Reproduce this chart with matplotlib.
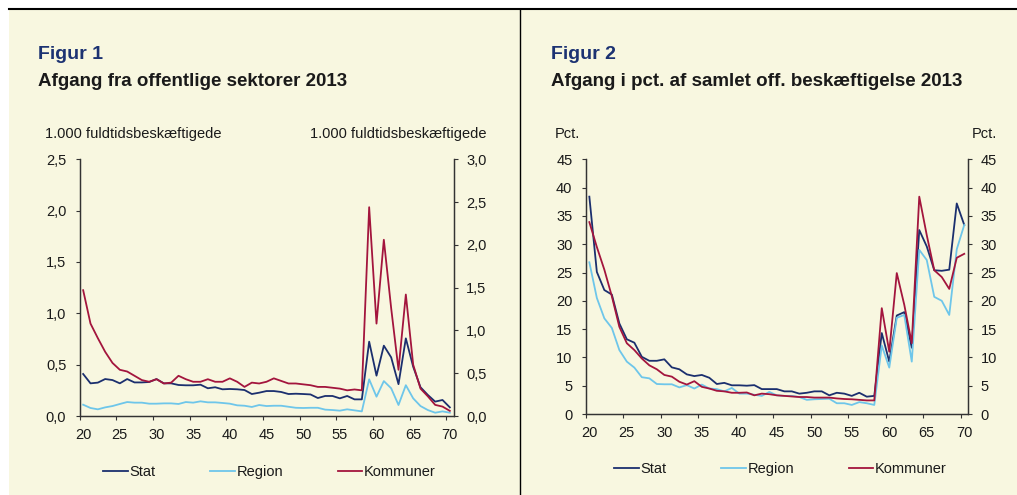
import numpy as np
import matplotlib.pyplot as plt
from matplotlib.patches import Rectangle
from matplotlib.lines import Line2D

plt.rcParams['font.family'] = ['Liberation Sans', 'DejaVu Sans']

# ages 20..70, one value per age
ages = list(range(20, 71))
age_labels = [str(a) for a in range(20, 71, 5)]

# Figur 1: 1.000 fuldtidsbeskaeftigede (Stat + Region on left axis, Kommuner on right axis)
stat_1 = [0.409, 0.318, 0.325, 0.36, 0.35, 0.318, 0.36, 0.327, 0.327, 0.331,
          0.36, 0.318, 0.318, 0.302, 0.299, 0.299, 0.305, 0.27, 0.28, 0.26,
          0.263, 0.26, 0.253, 0.214, 0.227, 0.243, 0.243, 0.234, 0.214, 0.217,
          0.214, 0.21, 0.175, 0.195, 0.195, 0.172, 0.195, 0.162, 0.162,
          0.724, 0.393, 0.685, 0.571, 0.31, 0.756, 0.48, 0.28, 0.205, 0.14, 0.156, 0.084]
region_1 = [0.11, 0.078, 0.065, 0.084, 0.097, 0.117, 0.136, 0.13, 0.13, 0.12,
            0.12, 0.123, 0.123, 0.117, 0.136, 0.13, 0.143, 0.133, 0.133, 0.127,
            0.12, 0.104, 0.10, 0.088, 0.107, 0.097, 0.10, 0.10, 0.09, 0.08,
            0.078, 0.08, 0.08, 0.062, 0.058, 0.052, 0.065, 0.055, 0.045,
            0.357, 0.188, 0.34, 0.27, 0.107, 0.30, 0.172, 0.097, 0.058, 0.032, 0.045, 0.032]
kommuner_1 = [1.47, 1.08, 0.91, 0.75, 0.62, 0.54, 0.52, 0.47, 0.42, 0.40,
              0.43, 0.38, 0.39, 0.47, 0.43, 0.40, 0.40, 0.43, 0.40, 0.40,
              0.44, 0.40, 0.34, 0.39, 0.38, 0.40, 0.44, 0.41, 0.38, 0.38,
              0.37, 0.36, 0.34, 0.34, 0.33, 0.32, 0.30, 0.31, 0.30,
              2.44, 1.08, 2.06, 1.26, 0.54, 1.42, 0.60, 0.32, 0.23, 0.13, 0.11, 0.06]

# Figur 2: pct. af samlet off. beskaeftigelse
stat_2 = [38.4, 25.1, 21.9, 21.1, 16.0, 13.2, 12.6, 10.1, 9.4, 9.4,
          9.66, 8.24, 7.9, 7.0, 6.7, 6.9, 6.4, 5.3, 5.5, 5.07,
          5.07, 5.0, 5.1, 4.4, 4.4, 4.4, 4.0, 4.0, 3.6, 3.75,
          4.0, 4.0, 3.3, 3.75, 3.6, 3.2, 3.75, 3.06, 3.2,
          14.3, 9.25, 17.4, 18.0, 11.7, 32.5, 29.6, 25.4, 25.3, 25.5, 37.2, 33.4]
region_2 = [26.8, 20.5, 16.9, 15.2, 11.3, 9.25, 8.2, 6.5, 6.3, 5.3,
            5.25, 5.25, 4.7, 5.1, 4.5, 5.2, 4.5, 4.4, 4.0, 4.6,
            3.6, 3.6, 3.4, 3.2, 3.9, 3.3, 3.2, 3.2, 3.0, 2.5,
            2.6, 2.65, 2.7, 1.9, 1.9, 1.6, 2.1, 1.9, 1.6,
            12.1, 8.2, 17.0, 17.5, 9.25, 29.0, 27.2, 20.7, 20.0, 17.5, 29.1, 33.4]
kommuner_2 = [33.9, 29.5, 25.5, 20.8, 15.4, 12.5, 11.3, 9.8, 8.6, 7.9,
              6.9, 6.6, 5.7, 5.2, 5.8, 4.8, 4.5, 4.1, 4.0, 3.75,
              3.75, 3.8, 3.3, 3.6, 3.5, 3.3, 3.2, 3.1, 3.0, 3.0,
              2.9, 2.9, 2.9, 2.75, 2.65, 2.6, 2.5, 2.4, 2.4,
              18.7, 11.0, 24.9, 19.3, 12.5, 38.4, 31.6, 25.4, 24.2, 22.1, 27.6, 28.3]

series_names = ['Stat', 'Region', 'Kommuner']
colors = ['#1B2F6E', '#6EC6EA', '#A3153D']
cream = '#F8F7E0'
navy = '#1C3272'
txt = '#1a1a1a'

W, H = 1017, 495
fig = plt.figure(figsize=(W / 100, H / 100), dpi=100)
fig.patch.set_facecolor('white')
fig.patches.append(Rectangle((9 / W, 0), 1, 1 - 9 / H, transform=fig.transFigure,
                             facecolor=cream, edgecolor='none', zorder=-5))
fig.lines.append(Line2D([9 / W, 1], [1 - 9 / H, 1 - 9 / H], transform=fig.transFigure,
                        color='black', lw=1.5))
fig.lines.append(Line2D([520 / W, 520 / W], [0, 1 - 9 / H], transform=fig.transFigure,
                        color='black', lw=1.0))


def ftext(x, y, s, color=txt, **kw):  # place text in pixel coords (y from top)
    fig.text(x / W, 1 - y / H, s, va='baseline', color=color, **kw)


def fmt(vals, dec):
    return [f'{v:.{dec}f}'.replace('.', ',') for v in vals]


def style_axes(ax, axr, lticks, rticks, ldec, rdec):
    x = np.arange(len(ages))
    ax.set_xlim(-0.5, len(ages) - 0.5)
    ax.set_xticks(x[::5])
    ax.set_xticklabels(age_labels)
    ax.set_xticks(np.arange(-0.5, len(ages) - 1, 5), minor=True)
    ax.tick_params(axis='x', which='major', length=0, pad=8.5, labelsize=10.5, labelcolor=txt)
    ax.tick_params(axis='x', which='minor', length=3, width=0.8, direction='out', color='#333333')
    ax.set_ylim(lticks[0], lticks[-1])
    ax.set_yticks(lticks)
    ax.set_yticklabels(fmt(lticks, ldec))
    ax.tick_params(axis='y', length=3, width=0.8, pad=6.5, labelsize=10.5, labelcolor=txt, color='#333333')
    axr.set_ylim(rticks[0], rticks[-1])
    axr.set_yticks(rticks)
    axr.set_yticklabels(fmt(rticks, rdec))
    axr.tick_params(axis='y', length=3, width=0.8, pad=6, labelsize=10.5, labelcolor=txt, color='#333333')
    for a in (ax, axr):
        a.set_facecolor('none')
        a.spines['top'].set_visible(False)
        for s in ('left', 'right', 'bottom'):
            a.spines[s].set_color('#333333')
            a.spines[s].set_linewidth(0.9)


# ---- Figur 1
ax1 = fig.add_axes([79.5 / W, 1 - 416 / H, 374 / W, 256.7 / H])
ax1r = ax1.twinx()
x = np.arange(len(ages))
l1, = ax1.plot(x, stat_1, color=colors[0], lw=1.3)
l2, = ax1.plot(x, region_1, color=colors[1], lw=1.3)
l3, = ax1r.plot(x, kommuner_1, color=colors[2], lw=1.3)
style_axes(ax1, ax1r, [0, 0.5, 1.0, 1.5, 2.0, 2.5], [0, 0.5, 1.0, 1.5, 2.0, 2.5, 3.0], 1, 1)

ftext(38, 59, 'Figur 1', fontsize=14, fontweight='bold', color=navy)
ftext(38, 86, 'Afgang fra offentlige sektorer 2013', fontsize=13.5, fontweight='bold')
ftext(45, 138, '1.000 fuldtidsbeskæftigede', fontsize=10.5)
ftext(487, 138, '1.000 fuldtidsbeskæftigede', fontsize=10.5, ha='right')

fig.legend([l1, l2, l3], series_names, loc='center left', bbox_to_anchor=(103 / W, 1 - 472 / H),
           ncol=3, frameon=False, fontsize=10.5, borderpad=0, borderaxespad=0,
           handlelength=1.7, handletextpad=0.1, columnspacing=3.75, labelcolor=txt)

# ---- Figur 2
ax2 = fig.add_axes([585.6 / W, 1 - 414 / H, 382.4 / W, 254.7 / H])
ax2r = ax2.twinx()
m1, = ax2.plot(x, stat_2, color=colors[0], lw=1.3)
m2, = ax2.plot(x, region_2, color=colors[1], lw=1.3)
m3, = ax2.plot(x, kommuner_2, color=colors[2], lw=1.3)
pct = list(range(0, 46, 5))
style_axes(ax2, ax2r, pct, pct, 0, 0)

ftext(551, 59, 'Figur 2', fontsize=14, fontweight='bold', color=navy)
ftext(551, 86, 'Afgang i pct. af samlet off. beskæftigelse 2013', fontsize=13.5, fontweight='bold')
ftext(555, 138, 'Pct.', fontsize=10.5)
ftext(997, 138, 'Pct.', fontsize=10.5, ha='right')

fig.legend([m1, m2, m3], series_names, loc='center left', bbox_to_anchor=(614 / W, 1 - 469 / H),
           ncol=3, frameon=False, fontsize=10.5, borderpad=0, borderaxespad=0,
           handlelength=1.7, handletextpad=0.1, columnspacing=3.75, labelcolor=txt)

fig.savefig('out.png', dpi=100, facecolor=fig.get_facecolor())
